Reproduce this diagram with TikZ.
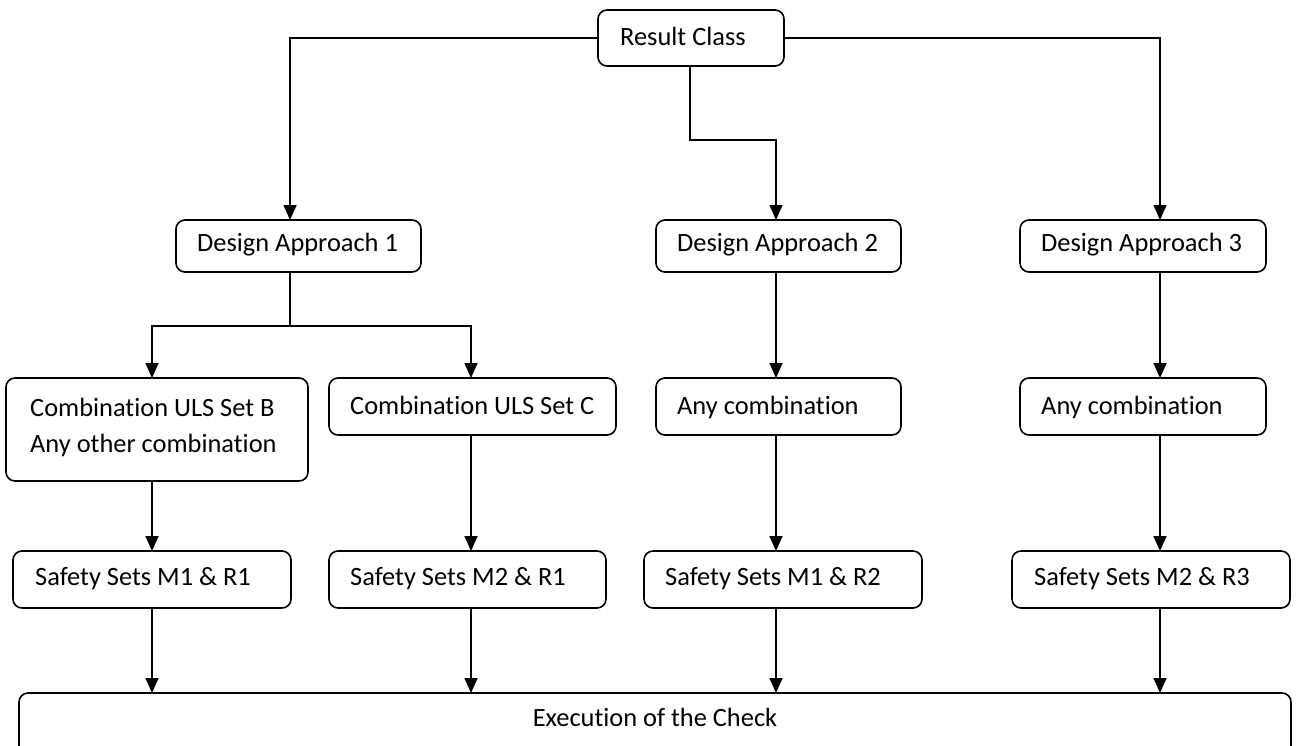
\documentclass[tikz,border=0pt]{standalone}
\usepackage{fontspec}
\setmainfont[Ligatures={NoCommon,NoContextual}]{Carlito}
\usetikzlibrary{arrows.meta}
\begin{document}
\begin{tikzpicture}[x=1pt,y=-1pt,
  box/.style={draw=black,line width=1.6pt,rounded corners=9pt,fill=white},
  lbl/.style={anchor=base west,inner sep=0pt,font=\fontsize{26.4}{35}\selectfont,text=black},
  conn/.style={line width=1.6pt,draw=black},
  arr/.style={conn,-{Triangle[width=13pt,length=15pt]}}]
\useasboundingbox (0,0) rectangle (1297,745);
\begin{scope}
\clip (0,0) rectangle (1297,745);
% boxes
\draw[box] (598,10) rectangle (784,66);
\node[coordinate] (rcL) at (598,38) {};
\node[coordinate] (rcR) at (784,38) {};
\node[coordinate] (rcB) at (690,66) {};
\node[lbl] (rc) at (620,45) {Result Class};

\draw[box] (176,220) rectangle (421,272);
\node[lbl] (da1) at (197,251) {Design Approach 1};
\draw[box] (656,220) rectangle (901,272);
\node[lbl] (da2) at (677,251) {Design Approach 2};
\draw[box] (1020,220) rectangle (1266,272);
\node[lbl] (da3) at (1041,251) {Design Approach 3};

\draw[box] (6,378) rectangle (308,481);
\node[lbl] (cb1) at (30,416) {Combination ULS Set B};
\node[lbl] (cb2) at (30,452) {Any other combination};
\draw[box] (329,378) rectangle (616,435);
\node[lbl] (cc) at (350,414) {Combination ULS Set C};
\draw[box] (656,378) rectangle (901,435);
\node[lbl] (ac2) at (677,414) {Any combination};
\draw[box] (1020,378) rectangle (1266,435);
\node[lbl] (ac3) at (1041,414) {Any combination};

\draw[box] (13,551) rectangle (291,608);
\node[lbl] (s1) at (35,585) {Safety Sets M1 \& R1};
\draw[box] (329,551) rectangle (606,608);
\node[lbl] (s2) at (350,585) {Safety Sets M2 \& R1};
\draw[box] (644,551) rectangle (922,608);
\node[lbl] (s3) at (665,585) {Safety Sets M1 \& R2};
\draw[box] (1012,551) rectangle (1290,608);
\node[lbl] (s4) at (1034,585) {Safety Sets M2 \& R3};

\draw[box] (19,693) rectangle (1291,770);
\node[lbl,anchor=base] (ex) at (655,726) {Execution of the Check};

% coordinates
\coordinate (da1T) at (290,220);
\coordinate (da2T) at (776,220);
\coordinate (da3T) at (1160,220);
\coordinate (da1B) at (290,272);
\coordinate (da2B) at (776,272);
\coordinate (da3B) at (1160,272);
\coordinate (cbT) at (152,378);
\coordinate (ccT) at (471,378);
\coordinate (cbB) at (152,481);
\coordinate (ccB) at (471,435);
\coordinate (ac2B) at (776,435);
\coordinate (ac3B) at (1160,435);
\coordinate (ac2T) at (776,378);
\coordinate (ac3T) at (1160,378);
\coordinate (s1T) at (152,551);
\coordinate (s2T) at (471,551);
\coordinate (s3T) at (776,551);
\coordinate (s4T) at (1160,551);
\coordinate (s1B) at (152,608);
\coordinate (s2B) at (471,608);
\coordinate (s3B) at (776,608);
\coordinate (s4B) at (1160,608);
\coordinate (ex1) at (152,693);
\coordinate (ex2) at (471,693);
\coordinate (ex3) at (776,693);
\coordinate (ex4) at (1160,693);
\coordinate (j1) at (690,140);
\coordinate (j2) at (290,326);

% connectors
\draw[arr] (rcL) -| (da1T);
\draw[arr] (rcR) -| (da3T);
\draw[arr] (rcB) -- (j1) -| (da2T);
\draw[conn] (da1B) -- (j2);
\draw[arr] (j2) -| (cbT);
\draw[arr] (j2) -| (ccT);
\draw[arr] (da2B) -- (ac2T);
\draw[arr] (da3B) -- (ac3T);
\draw[arr] (cbB) -- (s1T);
\draw[arr] (ccB) -- (s2T);
\draw[arr] (ac2B) -- (s3T);
\draw[arr] (ac3B) -- (s4T);
\draw[arr] (s1B) -- (ex1);
\draw[arr] (s2B) -- (ex2);
\draw[arr] (s3B) -- (ex3);
\draw[arr] (s4B) -- (ex4);
\end{scope}
\end{tikzpicture}
\end{document}
